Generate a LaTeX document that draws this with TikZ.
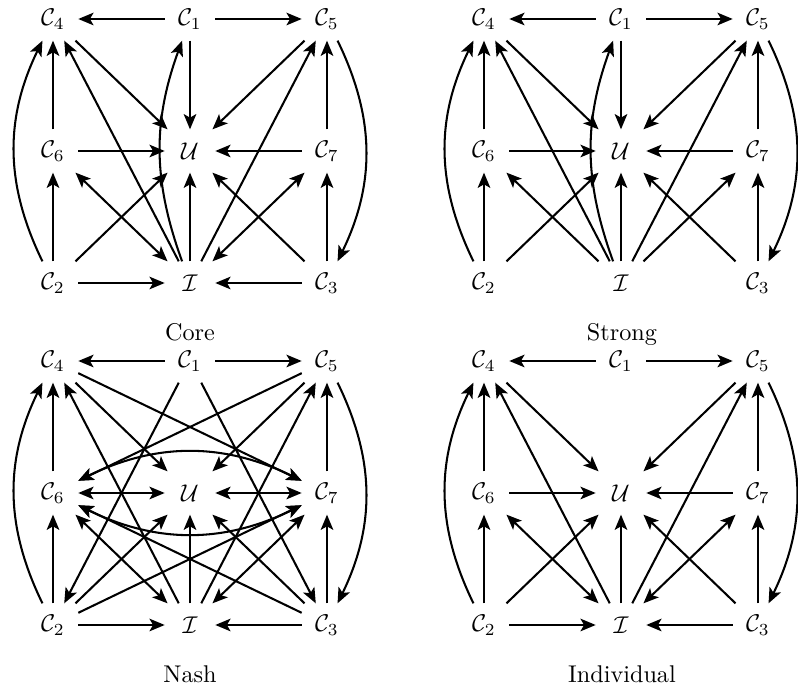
\documentclass[tikz,border=0pt]{standalone}
\usetikzlibrary{arrows.meta}
\newcommand{\placecells}[3]{%
  \node[cell] (#1c4) at ({#2+53},{#3+19}) {$\mathcal{C}_4$};
  \node[cell] (#1c1) at ({#2+190},{#3+19}) {$\mathcal{C}_1$};
  \node[cell] (#1c5) at ({#2+327},{#3+19}) {$\mathcal{C}_5$};
  \node[cell] (#1c6) at ({#2+53},{#3+151}) {$\mathcal{C}_6$};
  \node[cell] (#1u) at ({#2+190},{#3+151}) {$\mathcal{U}$};
  \node[cell] (#1c7) at ({#2+327},{#3+151}) {$\mathcal{C}_7$};
  \node[cell] (#1c2) at ({#2+53},{#3+283}) {$\mathcal{C}_2$};
  \node[cell] (#1i) at ({#2+190},{#3+283}) {$\mathcal{I}$};
  \node[cell] (#1c3) at ({#2+327},{#3+283}) {$\mathcal{C}_3$};
}
\newcommand{\commonedges}[1]{%
  \draw[arr] (#1c1) -- (#1c4);
  \draw[arr] (#1c1) -- (#1c5);
  \draw[arr] (#1i) -- (#1u);
  \draw[arr] (#1c6) -- (#1c4);
  \draw[arr] (#1c2) -- (#1c6);
  \draw[arr] (#1c7) -- (#1c5);
  \draw[arr] (#1c3) -- (#1c7);
  \draw[arr] (#1c2) to[bend left=26] (#1c4);
  \draw[arr] (#1c5) to[bend left=26] (#1c3);
  \draw[arr] (#1i) -- (#1c4);
  \draw[arr] (#1i) -- (#1c5);
  \draw[arr] (#1c4) -- (#1u);
  \draw[arr] (#1c5) -- (#1u);
  \draw[arr] (#1c2) -- (#1u);
  \draw[arr] (#1c3) -- (#1u);
}
\begin{document}
\begin{tikzpicture}[x=0.4132pt,y=-0.4132pt,
  cell/.style={rectangle, inner sep=0pt, minimum width=20.5pt, minimum height=17.5pt},
  tipA/.tip={Stealth[length=6.3pt,width=5.2pt,inset=1.5pt]},
  arr/.style={-tipA, line width=0.85pt},
  biarr/.style={tipA-tipA, line width=0.85pt},
  lab/.style={anchor=base}]
\useasboundingbox (0,0) rectangle (798,693);
% Core
\placecells{a}{0}{0}
\commonedges{a}
\draw[arr] (ac6) -- (au);
\draw[arr] (ac7) -- (au);
\draw[arr] (ac1) -- (au);
\draw[arr] (ac2) -- (ai);
\draw[arr] (ac3) -- (ai);
\draw[arr] (ai) to[bend left=20] (ac1);
\draw[biarr] (ac6) -- (ai);
\draw[biarr] (ac7) -- (ai);
% Strong
\placecells{b}{431}{0}
\commonedges{b}
\draw[arr] (bc6) -- (bu);
\draw[arr] (bc7) -- (bu);
\draw[arr] (bc1) -- (bu);
\draw[arr] (bi) to[bend left=20] (bc1);
\draw[arr] (bi) -- (bc6);
\draw[arr] (bi) -- (bc7);
% Nash
\placecells{c}{0}{342}
\commonedges{c}
\draw[biarr] (cc6) -- (cu);
\draw[biarr] (cc7) -- (cu);
\draw[arr] (cc2) -- (ci);
\draw[arr] (cc3) -- (ci);
\draw[biarr] (cc6) -- (ci);
\draw[biarr] (cc7) -- (ci);
\draw[arr] (cc4) -- (cc7);
\draw[arr] (cc5) -- (cc6);
\draw[arr] (cc1) -- (cc2);
\draw[arr] (cc1) -- (cc3);
\draw[arr] (cc2) -- (cc7);
\draw[arr] (cc3) -- (cc6);
\draw[biarr] (cc6) to[bend left=26] (cc7);
\draw[biarr] (cc6) to[bend right=26] (cc7);
% Individual
\placecells{d}{431}{342}
\commonedges{d}
\draw[arr] (dc6) -- (du);
\draw[arr] (dc7) -- (du);
\draw[arr] (dc2) -- (di);
\draw[arr] (dc3) -- (di);
\draw[biarr] (dc6) -- (di);
\draw[biarr] (dc7) -- (di);
% labels
\node[lab] (lcore) at (190,341) {Core};
\node[lab] (lstrong) at (622,341) {Strong};
\node[lab] (lnash) at (190,683) {Nash};
\node[lab] (lind) at (622,683) {Individual};
\end{tikzpicture}
\end{document}
